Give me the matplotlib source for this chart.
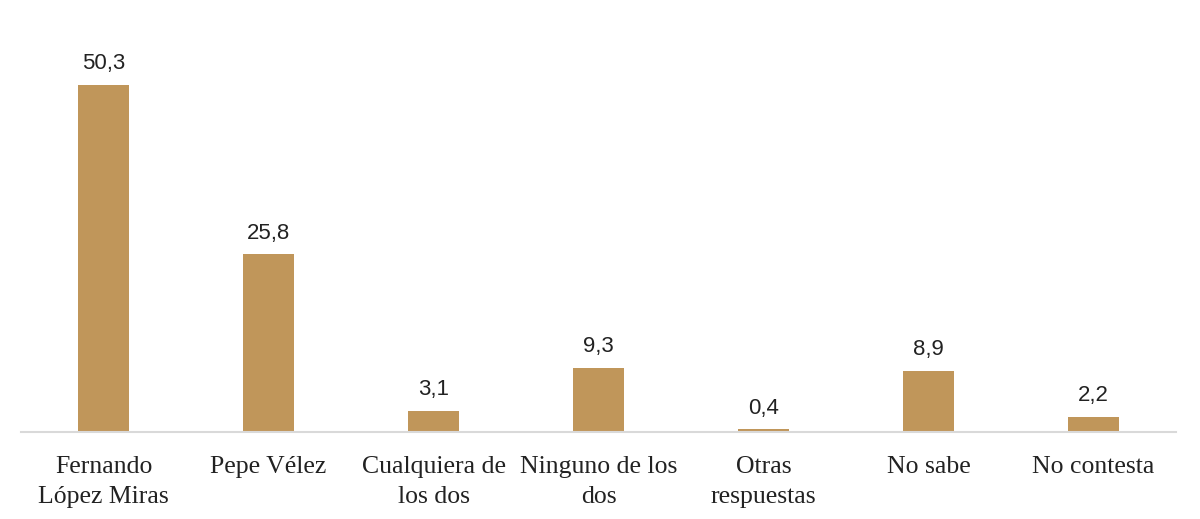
import matplotlib.pyplot as plt

categories = ["Fernando\nLópez Miras", "Pepe Vélez", "Cualquiera de\nlos dos",
              "Ninguno de los\ndos", "Otras\nrespuestas", "No sabe", "No contesta"]
values = [50.3, 25.8, 3.1, 9.3, 0.4, 8.9, 2.2]
value_labels = ["50,3", "25,8", "3,1", "9,3", "0,4", "8,9", "2,2"]

BAR = "#C0965A"

fig = plt.figure(figsize=(12, 5.19), dpi=100)
ax = fig.add_axes([0.0175, 0.1676, 0.9625, 0.798])

x = range(len(categories))
bars = ax.bar(x, values, width=0.31, color=BAR, zorder=2)
for b, lab in zip(bars, value_labels):
    ax.annotate(lab, (b.get_x() + b.get_width() / 2, b.get_height()),
                xytext=(0, 7.5), textcoords="offset points", ha="center", va="bottom",
                fontsize=16, family="Liberation Sans", color="#222222")

ax.set_xlim(-0.5, len(categories) - 0.5)
ax.set_ylim(0, 60)
ax.set_xticks(list(x))
ax.set_xticklabels(categories, family="Liberation Serif", fontsize=18.5,
                   color="#222222", linespacing=1.48, va="top")
ax.tick_params(axis="x", length=0, pad=17)
ax.set_yticks([])
for s in ("top", "right", "left"):
    ax.spines[s].set_visible(False)
ax.spines["bottom"].set_color("#D9D9D9")
ax.spines["bottom"].set_linewidth(1.5)

fig.savefig("out.png", dpi=100)
